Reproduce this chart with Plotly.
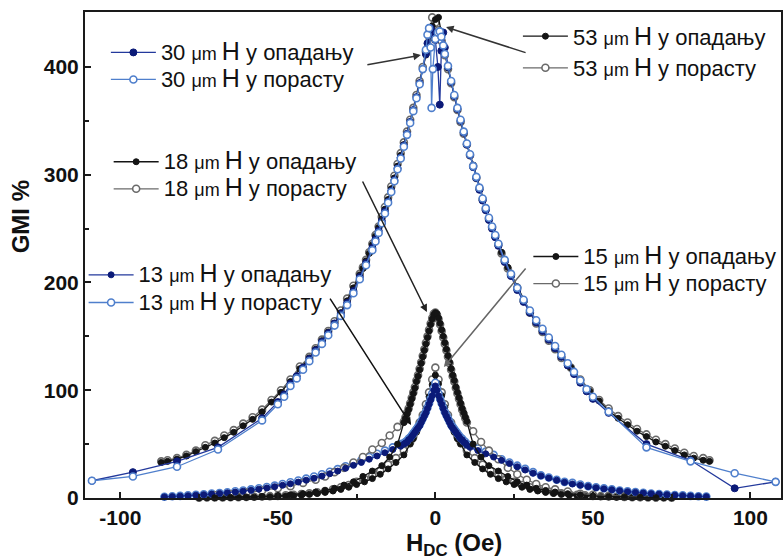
import plotly.graph_objects as go

# ---------------- data ----------------
x_53 = [-87, -85, -82, -79, -76, -73, -70, -67, -64, -61, -58, -55, -52, -49, -46, -43,
        -40, -38, -36, -34, -32, -30, -28, -26,
        -24, -23, -22, -21, -20, -19, -18, -17, -16, -15, -14, -13, -12, -11, -10, -9, -8, -7, -6, -5, -4, -3, -2, -1,
        0,
        1, 2, 3, 4, 5, 6, 7, 8, 9, 10, 11, 12, 13, 14, 15, 16, 17, 18, 19, 20, 21, 22, 23, 24,
        26, 28, 30, 32, 34, 36, 38, 40,
        43, 46, 49, 52, 55, 58, 61, 64, 67, 70, 73, 76, 79, 82, 85, 87]
y_53_desc = [33, 34, 36, 39, 43, 47, 51, 56, 61, 67, 73, 80, 89, 98, 108, 120,
             130, 138, 146, 154, 162, 172, 183, 195,
             207, 213, 220, 227, 235, 243, 251, 259, 268, 277, 287, 297, 308, 318, 328, 338, 349, 360, 372, 385, 398, 411, 426, 438,
             444,
             446, 430, 413, 399, 386, 373, 361, 350, 339, 329, 319, 309, 298, 288, 278, 269, 260, 252, 244, 236, 228, 221, 214, 208,
             196, 184, 173, 163, 155, 147, 139, 131,
             121, 109, 99, 90, 81, 74, 68, 62, 57, 52, 48, 44, 40, 37, 35, 34]
y_53_asc = [34, 35, 37, 40, 44, 49, 53, 58, 63, 69, 75, 82, 91, 100, 110, 122,
            131, 139, 147, 155, 164, 174, 185, 197,
            208, 214, 221, 228, 236, 244, 252, 261, 270, 279, 289, 299, 310, 320, 330, 340, 351, 362, 374, 387, 400, 414, 430, 446,
            441,
            434, 424, 411, 398, 385, 372, 360, 349, 338, 328, 318, 308, 297, 287, 277, 268, 259, 251, 243, 235, 227, 220, 213, 207,
            195, 183, 172, 162, 154, 146, 138, 130,
            121, 110, 100, 91, 83, 76, 70, 64, 59, 54, 50, 46, 42, 39, 37, 35]

x_30 = [-109, -96, -82, -69, -55,
        -50, -48, -46, -44, -42, -40, -38, -36, -34, -32, -30, -28, -26, -24, -22, -20,
        -19, -18, -17, -16, -15, -14, -13, -12, -11, -10, -9, -8, -7, -6, -5, -4,
        -3, -2.5, -2, -1.5, -1.2, -0.8, 0, 0.8, 1.4, 1.9, 2.5, 3,
        4, 5, 6, 7, 8, 9, 10, 11, 12, 13, 14, 15, 16, 17, 18, 19,
        20, 22, 24, 26, 28, 30, 32, 34, 36, 38, 40, 42, 44, 46, 48, 50,
        55, 67, 81, 95, 108]
y_30_desc = [16, 24, 34, 47, 74,
             89, 96, 106, 113, 121, 129, 137, 145, 153, 162, 171, 181, 192, 205, 218, 232,
             240, 248, 257, 266, 275, 285, 295, 306, 316, 327, 338, 349, 360, 372, 385, 398,
             412, 422, 432, 436, 434, 430, 425, 400, 365, 415, 432, 418,
             400, 386, 373, 361, 350, 339, 328, 318, 307, 297, 286, 276, 267, 258, 250, 242,
             234, 219, 206, 193, 182, 172, 163, 155, 147, 139, 131, 123, 115, 107, 99, 92,
             79, 50, 35, 9, 15]
y_30_asc = [16, 20, 29, 45, 72,
            87, 94, 104, 111, 119, 127, 135, 143, 151, 160, 169, 179, 190, 203, 216, 230,
            238, 246, 255, 264, 274, 284, 294, 305, 315, 326, 337, 348, 359, 371, 384, 398,
            416, 430, 436, 418, 362, 398, 426, 432, 433, 428, 420, 412,
            401, 387, 374, 362, 351, 340, 329, 319, 308, 298, 288, 278, 269, 260, 252, 244,
            236, 221, 208, 195, 184, 174, 165, 157, 149, 141, 133, 125, 117, 109, 101, 94,
            80, 47, 34, 23, 15]

x_18 = [-70, -65, -60, -55, -50, -46, -42, -38, -35, -32, -29, -26, -23, -20, -17, -14.5, -12,
        -10, -9.5, -9, -8.5, -8, -7.5, -7, -6.5, -6, -5.5, -5, -4.5, -4, -3.5, -3, -2.5, -2, -1.5, -1, -0.5, 0,
        0.5, 1, 1.5, 2, 2.5, 3, 3.5, 4, 4.5, 5, 5.5, 6, 6.5, 7, 7.5, 8, 8.5, 9, 9.5, 10,
        12, 14.5, 17, 20, 23, 26, 29, 32, 35, 38, 42, 46, 50, 55, 60, 65, 70]
y_18_desc = [0.3, 0.6, 1, 1.5, 2, 3, 4, 5.5, 7, 9, 12, 15, 20, 25, 30, 38, 50,
             70, 74, 78, 82, 87, 92, 97, 102, 108, 113, 119, 125, 131, 137, 143, 149, 155, 161, 166, 170, 172,
             171, 167, 162, 156, 150, 144, 138, 132, 126, 120, 114, 109, 103, 98, 93, 88, 83, 79, 75, 71,
             50, 38, 30, 25, 20, 15, 12, 9, 7, 5.5, 4, 3, 2, 1.5, 1, 0.6, 0.3]
y_18_asc = [2.5, 3.5, 5, 7, 9, 11, 14, 17, 20, 24, 28, 33, 38, 45, 51, 58, 66,
            71, 75, 79, 83, 88, 93, 98, 103, 109, 114, 120, 126, 132, 138, 144, 150, 156, 162, 167, 171, 172,
            170, 166, 161, 155, 149, 143, 137, 131, 125, 119, 113, 108, 102, 97, 92, 87, 82, 78, 74, 70,
            62, 52, 44, 36, 28, 22, 17, 13, 10, 8, 6, 4, 3, 2, 1.5, 1, 0.5]

x_15 = [-75, -72.5, -70, -67.5, -65, -62.5, -60, -57.5, -55, -52.5, -50, -47.5, -45, -42.5, -40, -37.5, -35, -32.5, -30,
        -27.5, -25, -22.5, -20, -17.5, -15, -12.5, -10,
        -8, -7, -6, -5, -4, -3, -2, -1, 0, 1, 2, 3, 4, 5, 6, 7, 8,
        10, 12.5, 15, 17.5, 20, 22.5, 25, 27.5, 30, 32.5, 35, 37.5, 40, 42.5, 45, 47.5, 50, 52.5, 55, 57.5, 60,
        62.5, 65, 67.5, 70, 72.5, 75]
y_15_desc = [0.1, 0.2, 0.25, 0.3, 0.4, 0.5, 0.6, 0.8, 1, 1.2, 1.5, 1.9, 2.3, 2.8, 3.4, 4.2, 5.2, 6.5, 8,
             10, 12.5, 15, 18, 22, 27, 33, 40,
             50, 55, 61, 67, 74, 83, 94, 105, 114, 106, 95, 84, 74, 67, 61, 55, 50,
             40, 33, 27, 22, 18, 15, 12.5, 10, 8, 6.5, 5.2, 4.2, 3.4, 2.8, 2.3, 1.9, 1.5, 1.2, 1, 0.8, 0.6,
             0.5, 0.4, 0.3, 0.25, 0.2, 0.1]
y_15_asc = [0.3, 0.4, 0.5, 0.6, 0.7, 0.8, 1, 1.2, 1.4, 1.7, 2, 2.5, 3, 3.6, 4.3, 5.2, 6.5, 8, 10,
            12, 15, 18, 21, 25, 31, 37, 44,
            52, 57, 63, 70, 77, 87, 98, 110, 121, 110, 98, 87, 77, 70, 63, 57, 52,
            44, 37, 31, 25, 21, 18, 15, 12, 10, 8, 6.5, 5.2, 4.3, 3.6, 3, 2.5, 2, 1.7, 1.4, 1.2, 1,
            0.8, 0.7, 0.6, 0.5, 0.4, 0.3]

x_13 = [-86, -83.5, -81, -78.5, -76, -73.5, -71, -68.5, -66, -63.5, -61, -58.5, -56, -53.5, -51, -48.5, -46, -43.5,
        -41, -38.5, -36, -33.5, -31, -28.5, -26, -23.5, -21, -18.5, -16, -13.5, -11,
        -10, -9.5, -9, -8.5, -8, -7.5, -7, -6.5, -6, -5.5, -5, -4.5, -4, -3.5, -3, -2.5, -2, -1.5, -1, -0.5, 0,
        0.5, 1, 1.5, 2, 2.5, 3, 3.5, 4, 4.5, 5, 5.5, 6, 6.5, 7, 7.5, 8, 8.5, 9, 9.5, 10,
        11, 13.5, 16, 18.5, 21, 23.5, 26, 28.5, 31, 33.5, 36, 38.5, 41, 43.5, 46, 48.5, 51, 53.5, 56, 58.5,
        61, 63.5, 66, 68.5, 71, 73.5, 76, 78.5, 81, 83.5, 86]
y_13_desc = [1, 1.3, 1.7, 2.1, 2.6, 3.1, 3.6, 4.2, 4.8, 5.5, 6.3, 7.2, 8.2, 9.3, 10.5, 11.8, 13.2, 14.8,
             16.5, 18.3, 20.3, 22.5, 25, 27.6, 30.3, 33, 36, 39, 42, 45, 48,
             50, 51, 52, 54, 55, 57, 59, 61, 63, 65, 67, 70, 73, 76, 79, 83, 87, 91, 95, 100, 104,
             100, 95, 91, 87, 83, 79, 76, 73, 70, 67, 65, 63, 61, 59, 57, 55, 54, 52, 51, 49,
             47, 44, 41, 38, 35, 32, 29, 26, 23, 20.5, 18.5, 16.5, 14.5, 13, 11.8, 10.6, 9.5, 8.5, 7.6, 6.7,
             5.9, 5.2, 4.6, 4, 3.5, 3, 2.6, 2.2, 1.8, 1.5, 1.2]
y_13_asc = [1.2, 1.6, 2, 2.5, 3, 3.5, 4.1, 4.7, 5.4, 6.2, 7, 8, 9, 10.2, 11.5, 13, 14.6, 16.3,
            18, 20, 22, 24.3, 26.8, 29.5, 32, 35, 38, 41, 44, 47, 50,
            51, 52, 53, 55, 56, 58, 60, 62, 64, 66, 68, 71, 74, 77, 80, 84, 88, 92, 97, 102, 107,
            102, 97, 92, 88, 84, 80, 77, 74, 71, 68, 66, 64, 62, 60, 58, 56, 55, 53, 52, 50,
            49, 46, 43, 40, 36, 33, 30, 27, 24, 21, 19, 17, 15, 14, 12.5, 11, 10, 9, 8, 7,
            6.2, 5.5, 4.8, 4.2, 3.6, 3.2, 2.8, 2.4, 2, 1.6, 1.3]

x_ticks = [-100, -50, 0, 50, 100]
y_ticks = [0, 100, 200, 300, 400]

# ---------------- styles ----------------
BLACK = "#141414"
GRAY = "#6a6a6a"
NAVY = "#0b1a78"
NAVY_LINE = "#23399c"
LBLUE = "#4f7fcc"
FONT = "Arial, Liberation Sans, sans-serif"


def label(d, kind):
    return (f"<span style='font-size:22px'>{d} </span>"
            f"<span style='font-size:18px'>μm </span>"
            f"<span style='font-size:25px'>H</span>"
            f"<span style='font-size:22px'> у {kind}</span>")


def filled(x, y, col, lcol, name, leg, size=6):
    return go.Scatter(x=x, y=y, mode="lines+markers", name=name, legend=leg, legendrank=1,
                      line=dict(color=lcol, width=1.3),
                      marker=dict(symbol="circle", size=size, color=col, line=dict(color=col, width=1)),
                      cliponaxis=False)


def opened(x, y, col, name, leg):
    return go.Scatter(x=x, y=y, mode="lines+markers", name=name, legend=leg, legendrank=2,
                      line=dict(color=col, width=1.3),
                      marker=dict(symbol="circle", size=7, color="white", line=dict(color=col, width=1.6)),
                      cliponaxis=False)


fig = go.Figure()
# big curves
fig.add_trace(opened(x_53, y_53_asc, GRAY, label(53, "порасту"), "legend2"))
fig.add_trace(filled(x_53, y_53_desc, BLACK, BLACK, label(53, "опадању"), "legend2", size=6))
fig.add_trace(filled(x_30, y_30_desc, NAVY, NAVY_LINE, label(30, "опадању"), "legend", size=7))
fig.add_trace(opened(x_30, y_30_asc, LBLUE, label(30, "порасту"), "legend"))
# small curves
fig.add_trace(opened(x_15, y_15_asc, GRAY, label(15, "порасту"), "legend5"))
fig.add_trace(filled(x_15, y_15_desc, BLACK, BLACK, label(15, "опадању"), "legend5"))
fig.add_trace(opened(x_13, y_13_asc, LBLUE, label(13, "порасту"), "legend4"))
fig.add_trace(opened(x_18, y_18_asc, GRAY, label(18, "порасту"), "legend3"))
fig.add_trace(filled(x_13, y_13_desc, NAVY, NAVY_LINE, label(13, "опадању"), "legend4"))
fig.add_trace(filled(x_18, y_18_desc, BLACK, BLACK, label(18, "опадању"), "legend3"))


def leg(x, y, fs):
    return dict(x=x, y=y, bgcolor="rgba(0,0,0,0)", font=dict(family=FONT, size=fs, color="#111"),
                itemwidth=45, tracegroupgap=0, xanchor="left", yanchor="top")


axis_common = dict(showline=True, linecolor="#1a1a1a", linewidth=2, mirror=True,
                   ticks="inside", ticklen=6, tickwidth=2, tickcolor="#1a1a1a",
                   showgrid=False, zeroline=False,
                   tickfont=dict(family=FONT, size=21, color="#111", weight="bold"))

fig.update_layout(
    width=783, height=559,
    margin=dict(l=85, r=0, t=12, b=61),
    plot_bgcolor="white", paper_bgcolor="white",
    legend=leg(0.03, 0.955, 18.5),
    legend2=leg(0.622, 0.993, 22),
    legend3=leg(0.034, 0.730, 18.5),
    legend4=leg(-0.002, 0.498, 19),
    legend5=leg(0.637, 0.535, 18.5),
    xaxis=dict(range=[-111.2, 109.7], tickvals=x_ticks, ticktext=[str(v) for v in x_ticks],
               minor=dict(tickvals=[-75, -25, 25, 75], ticks="inside", ticklen=4, tickwidth=1.5,
                          tickcolor="#1a1a1a"),
               **axis_common),
    yaxis=dict(range=[0, 451], tickvals=y_ticks, ticktext=[str(v) for v in y_ticks],
               minor=dict(tickvals=[50, 150, 250, 350], ticks="inside", ticklen=4, tickwidth=1.5,
                          tickcolor="#1a1a1a"),
               **axis_common),
)

# axis titles as annotations
fig.add_annotation(text="GMI %", xref="paper", yref="paper", x=-0.093, y=0.578,
                   textangle=-90, showarrow=False, xanchor="center", yanchor="middle",
                   font=dict(family=FONT, size=24, color="#111", weight="bold"))
fig.add_annotation(text="H<sub>DC</sub> (Oe)", xref="paper", yref="paper", x=0.53, y=-0.06,
                   showarrow=False, xanchor="center", yanchor="top",
                   font=dict(family=FONT, size=24, color="#111", weight="bold"))

# pointer arrows from labels to curves
arrows = [
    (-4.6, 411, -55, 10, "#333"),
    (3.4, 437, 81, 26, "#333"),
    (-2.7, 172.6, -65, -132, "#222"),
    (-7.7, 67.7, -82, -128, "#111"),
    (2.7, 121.6, 83, -100, "#666"),
]
for ax_x, ax_y, dx, dy, col in arrows:
    fig.add_annotation(x=ax_x, y=ax_y, ax=dx, ay=dy, xref="x", yref="y", text="",
                       showarrow=True, arrowhead=2, arrowsize=1, arrowwidth=1.5, arrowcolor=col)

fig.write_html("out.html")
